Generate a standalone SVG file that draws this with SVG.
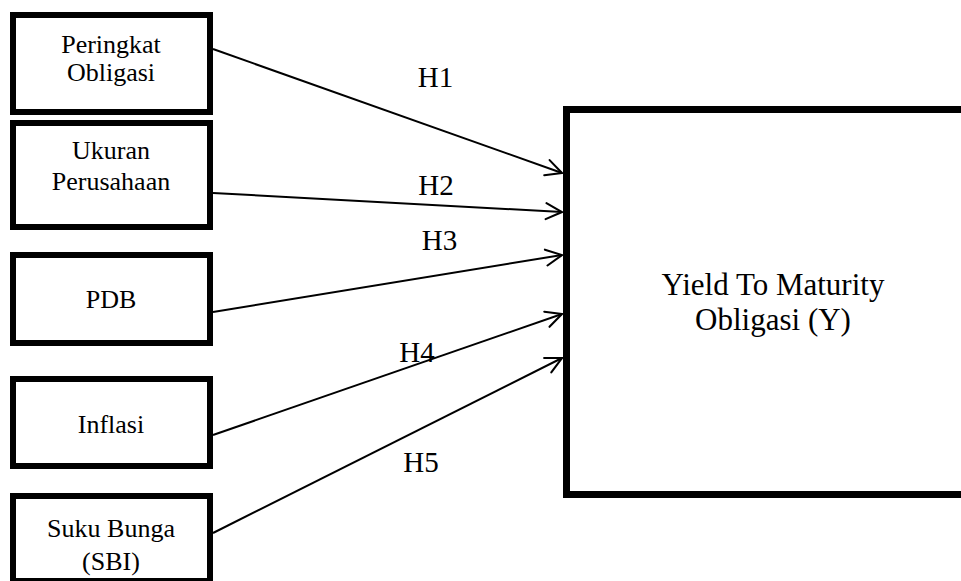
<svg xmlns="http://www.w3.org/2000/svg" width="961" height="581" viewBox="0 0 961 581">
<style>
.box{fill:#fff;stroke:#000;stroke-width:6}
.big{fill:#fff;stroke:#000;stroke-width:7}
.t{font-family:"Liberation Serif","Times New Roman",serif;font-size:26px;fill:#000;text-anchor:middle}
.tb{font-family:"Liberation Serif","Times New Roman",serif;font-size:31px;fill:#000;text-anchor:middle}
.h{font-family:"Liberation Serif","Times New Roman",serif;font-size:29px;fill:#000;text-anchor:middle}
.c{stroke:#000;stroke-width:2;fill:none;marker-end:url(#arr)}
</style>
<defs>
<marker id="arr" viewBox="0 0 10 10" refX="10" refY="5" markerWidth="16" markerHeight="16" markerUnits="userSpaceOnUse" orient="auto" overflow="visible">
<path d="M0,0 L10,5 L0,10" fill="none" stroke="#000" stroke-width="1.3" stroke-linecap="round" stroke-linejoin="miter"/>
</marker>
</defs>
<rect width="961" height="581" fill="#fff"/>
<g id="y">
<rect class="big" x="566.5" y="109.5" width="420" height="385"/>
<text class="tb" x="773" y="295">Yield To Maturity</text>
<text class="tb" x="773" y="330">Obligasi (Y)</text>
</g>
<g id="peringkat">
<rect class="box" x="13" y="15" width="197" height="97"/>
<text class="t" x="111" y="53">Peringkat</text>
<text class="t" x="111" y="81">Obligasi</text>
</g>
<g id="ukuran">
<rect class="box" x="13" y="123" width="197" height="104"/>
<text class="t" x="111" y="159">Ukuran</text>
<text class="t" x="111" y="190">Perusahaan</text>
</g>
<g id="pdb">
<rect class="box" x="13" y="255" width="197" height="88"/>
<text class="t" x="111" y="308">PDB</text>
</g>
<g id="inflasi">
<rect class="box" x="13" y="379" width="197" height="87"/>
<text class="t" x="111" y="433">Inflasi</text>
</g>
<g id="sbi">
<rect class="box" x="13" y="496" width="197" height="85"/>
<text class="t" x="111" y="537">Suku Bunga</text>
<text class="t" x="111" y="570">(SBI)</text>
</g>
<g id="connectors">
<line class="c" x1="213" y1="49" x2="562" y2="173"/>
<line class="c" x1="213" y1="193" x2="562" y2="212"/>
<line class="c" x1="213" y1="312" x2="562" y2="255"/>
<line class="c" x1="213" y1="435" x2="562" y2="314"/>
<line class="c" x1="213" y1="533" x2="562" y2="358"/>
<text class="h" x="435.5" y="87">H1</text>
<text class="h" x="436" y="195">H2</text>
<text class="h" x="439.5" y="250">H3</text>
<text class="h" x="417" y="362">H4</text>
<text class="h" x="421" y="472">H5</text>
</g>
</svg>
